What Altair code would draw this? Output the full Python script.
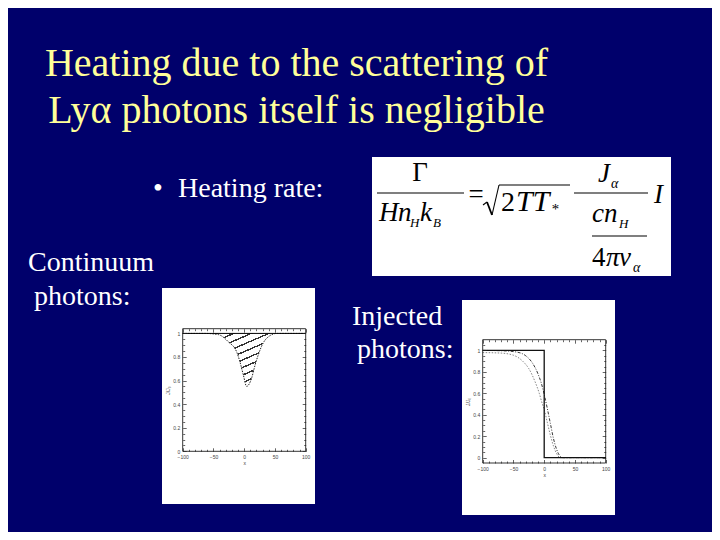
import altair as alt
import pandas as pd

W, H, M = 704, 524, 8
NAVY = "#00006b"
SERIF = "Liberation Serif"
SANS = "Liberation Sans"

# ---- data ----
title_lines = ["Heating due to the scattering of", "Lyα photons itself is negligible"]
x_major = [-100, -50, 0, 50, 100]
x_minor = [-90, -80, -70, -60, -40, -30, -20, -10, 10, 20, 30, 40, 60, 70, 80, 90]
y_major = [0, 0.2, 0.4, 0.6, 0.8, 1.0]
y_minor = [0.05, 0.1, 0.15, 0.25, 0.3, 0.35, 0.45, 0.5, 0.55, 0.65, 0.7, 0.75, 0.85, 0.9, 0.95, 1.05]

# Continuum photons: absorption trough
p1_x = [-100, -64, -42, -26, -12, -7, -1.5, 4, 8, 12, 17.6, 23, 31, 39, 53, 100]
p1_y = [1.0, 1.0, 0.99, 0.93, 0.84, 0.76, 0.65, 0.55, 0.57, 0.62, 0.73, 0.82, 0.92, 0.97, 1.0, 1.0]

# Injected photons
p2_step_x = [-100, 0, 0, 100]
p2_step_y = [1.0, 1.0, 0.0, 0.0]
p2_dash_x = [-100, -70, -45, -30, -20, -10, -5, 0, 5, 10, 15, 20, 25, 30, 100]
p2_dash_y = [1.0, 0.997, 0.985, 0.95, 0.89, 0.78, 0.70, 0.59, 0.46, 0.32, 0.18, 0.08, 0.02, 0.0, 0.0]
p2_dot_x = [-100, -70, -50, -35, -25, -15, -8, -3, 0, 5, 10, 15, 20, 26, 100]
p2_dot_y = [0.98, 0.975, 0.955, 0.90, 0.83, 0.71, 0.60, 0.50, 0.45, 0.33, 0.21, 0.11, 0.04, 0.0, 0.0]

EMPTY = alt.Data(values=[{}])


def txt(s, x, y, size, color="white", style="normal", align="left", font=SERIF):
    return alt.Chart(EMPTY).mark_text(
        text=s, font=font, fontSize=size, fontStyle=style, color=color,
        align=align, baseline="alphabetic"
    ).encode(x=alt.value(x - M), y=alt.value(y - M))


def box(x1, y1, x2, y2, color="white"):
    return alt.Chart(EMPTY).mark_rect(color=color).encode(
        x=alt.value(x1 - M), x2=alt.value(x2 - M), y=alt.value(y1 - M), y2=alt.value(y2 - M))


def seg(x1, y1, x2, y2, w=1.2):
    return alt.Chart(EMPTY).mark_rule(color="black", strokeWidth=w).encode(
        x=alt.value(x1 - M), x2=alt.value(x2 - M), y=alt.value(y1 - M), y2=alt.value(y2 - M))


def axis_layers(df, xs, ys, L, R, T, B):
    Lc, Rc, Tc, Bc = L - M, R - M, T - M, B - M
    common = dict(grid=False, domain=False, zindex=2, labelFont=SANS, labelFontSize=5,
                  labelColor="#444", tickColor="#222", tickWidth=0.7, titleFont=SANS,
                  titleFontSize=5, titleColor="#444", titleFontWeight="normal",
                  labelFlush=False, labelOverlap=False)
    specs = [
        ("x", dict(orient="bottom", values=x_major, tickSize=3.5, offset=Bc - 3.5 - H,
                   labelPadding=3, title="x", titlePadding=1, format="d")),
        ("x", dict(orient="bottom", values=x_minor, tickSize=2, offset=Bc - 2 - H, labels=False, title=None)),
        ("x", dict(orient="top", values=x_major, tickSize=3.5, offset=-(Tc + 3.5), labels=False, title=None)),
        ("x", dict(orient="top", values=x_minor, tickSize=2, offset=-(Tc + 2), labels=False, title=None)),
        ("y", dict(orient="left", values=y_major, tickSize=3.5, offset=-(Lc + 3.5),
                   labelPadding=3, title="J/J₀", titlePadding=2, format="~g")),
        ("y", dict(orient="left", values=y_minor, tickSize=2, offset=-(Lc + 2), labels=False, title=None)),
        ("y", dict(orient="right", values=y_major, tickSize=3.5, offset=Rc - 3.5 - W, labels=False, title=None)),
        ("y", dict(orient="right", values=y_minor, tickSize=2, offset=Rc - 2 - W, labels=False, title=None)),
    ]
    out = []
    for ch, s in specs:
        ax = alt.Axis(**common, **s)
        base = alt.Chart(df).mark_point(opacity=0)
        if ch == "x":
            out.append(base.encode(x=alt.X("x:Q", scale=xs, axis=ax)))
        else:
            out.append(base.encode(y=alt.Y("y:Q", scale=ys, axis=ax)))
    return out


def frame(xs, ys, ydom):
    return alt.Chart(EMPTY).mark_rect(filled=False, color="black", strokeWidth=0.8).encode(
        x=alt.X(datum=-100, type="quantitative", scale=xs, axis=None),
        x2=alt.X2(datum=100),
        y=alt.Y(datum=ydom[0], type="quantitative", scale=ys, axis=None),
        y2=alt.Y2(datum=ydom[1]),
    )


# ---------- plot 1: continuum photons ----------
L1, R1, T1, B1 = 182.7, 305.7, 328.7, 451.3
ydom1 = [0, 1.04]
xs1 = alt.Scale(domain=[-100, 100], range=[L1 - M, R1 - M], nice=False, zero=False)
ys1 = alt.Scale(domain=ydom1, range=[B1 - M, T1 - M], nice=False, zero=False)
df1 = pd.DataFrame({"x": p1_x, "y": p1_y})

N = 14
stops = []
for i in range(N):
    o = i / N
    w = 1 / N
    stops += [
        alt.GradientStop(offset=o, color="white"),
        alt.GradientStop(offset=o + 0.8 * w, color="white"),
        alt.GradientStop(offset=o + 0.8 * w, color="#333333"),
        alt.GradientStop(offset=min(1.0, o + w), color="#333333"),
    ]
hatch = alt.LinearGradient(gradient="linear", stops=stops, x1=0, y1=0, x2=1, y2=1)

p1_area = alt.Chart(df1).mark_area(interpolate="monotone", color=hatch).encode(
    x=alt.X("x:Q", scale=xs1, axis=None),
    y=alt.Y("y:Q", scale=ys1, axis=None),
    y2=alt.Y2(datum=1),
)
p1_line = alt.Chart(df1).mark_line(interpolate="monotone", color="#222", strokeWidth=1,
                                   strokeDash=[1.5, 1.2]).encode(
    x=alt.X("x:Q", scale=xs1, axis=None), y=alt.Y("y:Q", scale=ys1, axis=None))
p1_top = alt.Chart(EMPTY).mark_rule(color="black", strokeWidth=1).encode(
    x=alt.X(datum=-100, type="quantitative", scale=xs1, axis=None), x2=alt.X2(datum=100),
    y=alt.Y(datum=1, type="quantitative", scale=ys1, axis=None))

plot1 = alt.layer(
    p1_area, p1_line, p1_top, frame(xs1, ys1, ydom1),
    *axis_layers(df1, xs1, ys1, L1, R1, T1, B1)
).resolve_axis(x="independent", y="independent")

# ---------- plot 2: injected photons ----------
L2, R2, T2, B2 = 482.7, 605.7, 339.7, 463.0
ydom2 = [-0.05, 1.1]
xs2 = alt.Scale(domain=[-100, 100], range=[L2 - M, R2 - M], nice=False, zero=False)
ys2 = alt.Scale(domain=ydom2, range=[B2 - M, T2 - M], nice=False, zero=False)
df_step = pd.DataFrame({"x": p2_step_x, "y": p2_step_y, "i": range(len(p2_step_x))})
df_dash = pd.DataFrame({"x": p2_dash_x, "y": p2_dash_y, "i": range(len(p2_dash_x))})
df_dot = pd.DataFrame({"x": p2_dot_x, "y": p2_dot_y, "i": range(len(p2_dot_x))})


def line2(df, **kw):
    return alt.Chart(df).mark_line(**kw).encode(
        x=alt.X("x:Q", scale=xs2, axis=None), y=alt.Y("y:Q", scale=ys2, axis=None), order="i:Q")


plot2 = alt.layer(
    line2(df_dot, interpolate="monotone", color="#777", strokeWidth=0.9, strokeDash=[1.5, 1.5]),
    line2(df_dash, interpolate="monotone", color="#222", strokeWidth=0.9, strokeDash=[3, 1.5, 1, 1.5]),
    line2(df_step, color="#111", strokeWidth=1.3),
    frame(xs2, ys2, ydom2),
    *axis_layers(df_step, xs2, ys2, L2, R2, T2, B2)
).resolve_axis(x="independent", y="independent")

# ---------- slide decoration ----------
slide = [
    box(162, 288, 315, 504),
    box(462, 300, 615, 515),
    box(372, 157, 671, 276),
]

texts = [
    txt(title_lines[0], 296.5, 76, 40, color="#ffff99", align="center"),
    txt(title_lines[1], 296.5, 123, 40, color="#ffff99", align="center"),
    txt("•", 158, 197, 28, align="center"),
    txt("Heating rate:", 178, 197, 28),
    txt("Continuum", 28, 271, 28),
    txt("photons:", 34, 305, 28),
    txt("Injected", 352, 325, 28),
    txt("photons:", 357, 358, 28),
]

# formula
K = "black"
formula = [
    txt("Γ", 420, 181, 27, color=K, align="center"),
    seg(377, 193, 464, 193),
    txt("H", 379, 221, 27, color=K, style="italic"),
    txt("n", 398, 221, 27, color=K, style="italic"),
    txt("H", 410, 227, 13, color=K, style="italic"),
    txt("k", 420, 221, 27, color=K, style="italic"),
    txt("B", 433, 227, 13, color=K, style="italic"),
    txt("=", 476, 203, 27, color=K, align="center"),
    seg(483, 205, 487, 202, 1.1),
    seg(487, 202, 492, 215, 1.8),
    seg(492, 215, 499, 185, 1.1),
    seg(499, 185, 570, 185, 1.1),
    txt("2", 501, 211, 28, color=K),
    txt("TT", 516, 211, 30, color=K, style="italic"),
    txt("*", 551, 214, 15, color=K, style="italic"),
    txt("J", 598, 182, 27, color=K, style="italic"),
    txt("α", 611, 188, 14, color=K, style="italic"),
    seg(574, 193, 648, 193),
    txt("c", 592, 222, 27, color=K, style="italic"),
    txt("n", 604, 222, 27, color=K, style="italic"),
    txt("H", 619, 228, 13, color=K, style="italic"),
    seg(592, 236, 647, 236),
    txt("4", 592, 266, 27, color=K),
    txt("π", 606, 266, 27, color=K, style="italic"),
    txt("ν", 619, 266, 27, color=K, style="italic"),
    txt("α", 633, 272, 14, color=K, style="italic"),
    txt("I", 654, 203, 27, color=K, style="italic"),
]

chart = alt.layer(*slide, plot1, plot2, *texts, *formula).resolve_scale(
    x="independent", y="independent"
).properties(
    width=W, height=H, background=NAVY, padding=0,
    autosize=alt.AutoSizeParams(type="none"),
).configure_view(stroke=None)

chart.save("out.html", embed_options={"renderer": "svg", "actions": False})
